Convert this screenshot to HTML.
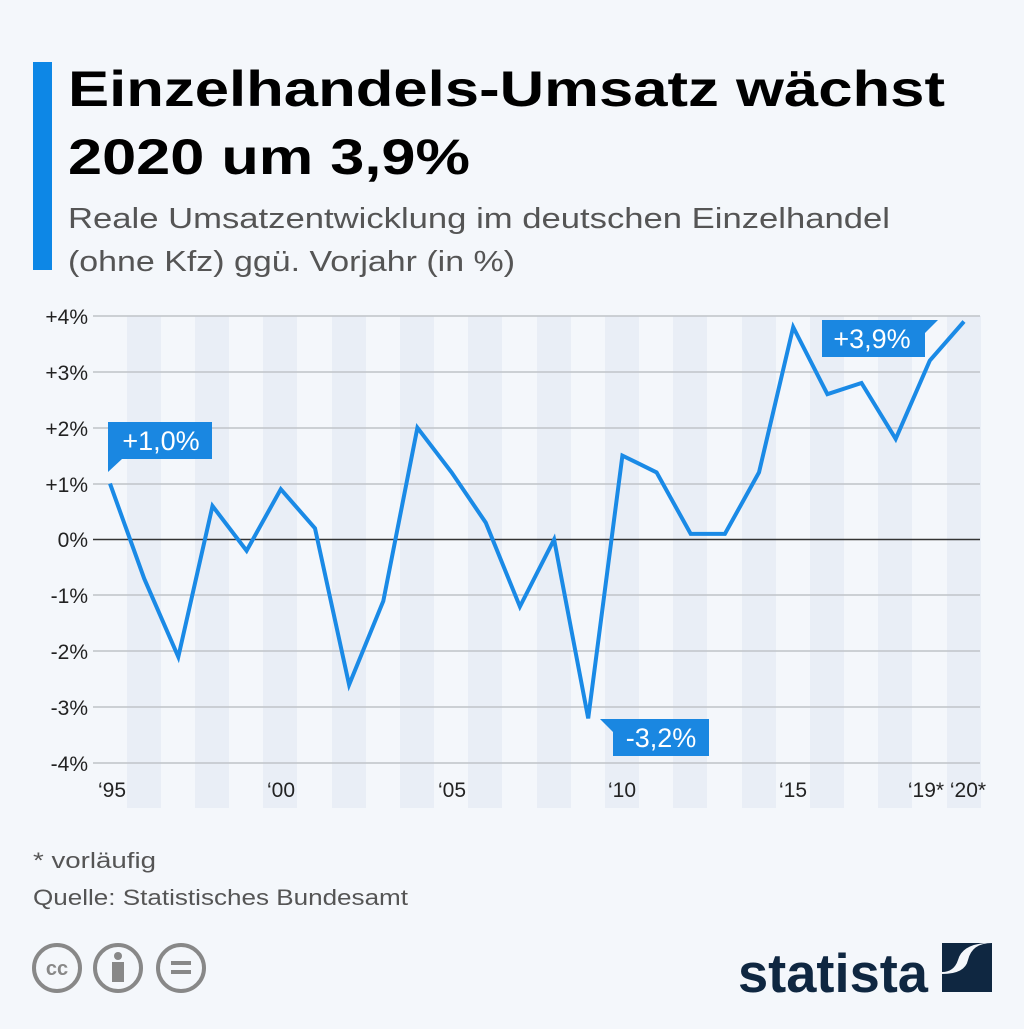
<!DOCTYPE html>
<html><head><meta charset="utf-8"><style>
body{margin:0;width:1024px;height:1024px;background:#f4f7fb;font-family:"Liberation Sans",sans-serif;overflow:hidden}
</style></head><body>
<svg width="1024" height="1024" viewBox="0 0 1024 1024" xmlns="http://www.w3.org/2000/svg" font-family="Liberation Sans, sans-serif">
<rect width="1024" height="1024" fill="#f4f7fb"/>
<rect x="33" y="62" width="19" height="208" fill="#0d87e6"/>
<text x="68" y="106" font-size="50" font-weight="bold" fill="#000" textLength="877" lengthAdjust="spacingAndGlyphs">Einzelhandels-Umsatz wächst</text>
<text x="68" y="174" font-size="50" font-weight="bold" fill="#000" textLength="402" lengthAdjust="spacingAndGlyphs">2020 um 3,9%</text>
<text x="68" y="228" font-size="29" fill="#555" textLength="822" lengthAdjust="spacingAndGlyphs">Reale Umsatzentwicklung im deutschen Einzelhandel</text>
<text x="68" y="271" font-size="29" fill="#555" textLength="447" lengthAdjust="spacingAndGlyphs">(ohne Kfz) ggü. Vorjahr (in %)</text>
<g fill="#e9eef6">
<rect x="127" y="316" width="34" height="492"/><rect x="195" y="316" width="34" height="492"/><rect x="263" y="316" width="34" height="492"/><rect x="332" y="316" width="34" height="492"/><rect x="400" y="316" width="34" height="492"/><rect x="468" y="316" width="34" height="492"/><rect x="537" y="316" width="34" height="492"/><rect x="605" y="316" width="34" height="492"/><rect x="673" y="316" width="34" height="492"/><rect x="742" y="316" width="34" height="492"/><rect x="810" y="316" width="34" height="492"/><rect x="878" y="316" width="34" height="492"/><rect x="947" y="316" width="34" height="492"/>
</g>
<g stroke="#bfc3c8" stroke-width="1.5">
<line x1="93" x2="980" y1="316" y2="316"/><line x1="93" x2="980" y1="372" y2="372"/><line x1="93" x2="980" y1="428" y2="428"/><line x1="93" x2="980" y1="484" y2="484"/><line x1="93" x2="980" y1="595" y2="595"/><line x1="93" x2="980" y1="651" y2="651"/><line x1="93" x2="980" y1="707" y2="707"/><line x1="93" x2="980" y1="763" y2="763"/>
</g>
<line x1="93" x2="980" y1="539.5" y2="539.5" stroke="#333" stroke-width="1.5"/>
<g font-size="21" fill="#222" text-anchor="end">
<text x="88" y="324">+4%</text><text x="88" y="380">+3%</text><text x="88" y="436">+2%</text><text x="88" y="492">+1%</text><text x="88" y="547">0%</text><text x="88" y="603">-1%</text><text x="88" y="659">-2%</text><text x="88" y="715">-3%</text><text x="88" y="771">-4%</text>
</g>
<g font-size="21" fill="#222" text-anchor="middle">
<text x="112" y="797">‘95</text><text x="281" y="797">‘00</text><text x="452" y="797">‘05</text><text x="622" y="797">‘10</text><text x="793" y="797">‘15</text><text x="926" y="797">‘19*</text><text x="968" y="797">‘20*</text>
</g>
<polyline fill="none" stroke="#1a8ae6" stroke-width="4" stroke-linejoin="miter" points="110,483.6 144.2,578.6 178.3,656.9 212.5,506 246.6,550.7 280.8,489.2 315,528.3 349.1,684.8 383.3,601 417.4,427.7 451.6,472.4 485.8,522.7 519.9,606.6 554.1,539.5 588.2,718.4 622.4,455.6 656.6,472.4 690.7,533.9 724.9,533.9 759,472.4 793.2,327.1 827.4,394.2 861.5,383 895.7,438.9 929.8,360.6 964,321.5"/>
<g fill="#1a87e1">
<path d="M108,422H212V459H122L108,472Z"/>
<path d="M822,320H938L925,333V357H822Z"/>
<path d="M600,719H709V756H613V732Z"/>
</g>
<g font-size="27" fill="#fff" text-anchor="middle">
<text x="161" y="450">+1,0%</text><text x="872" y="348">+3,9%</text><text x="661" y="747">-3,2%</text>
</g>
<text x="33" y="868" font-size="22" fill="#555" textLength="123" lengthAdjust="spacingAndGlyphs">* vorläufig</text>
<text x="33" y="905" font-size="22" fill="#555" textLength="375" lengthAdjust="spacingAndGlyphs">Quelle: Statistisches Bundesamt</text>
<g fill="none" stroke="#888" stroke-width="4">
<circle cx="57" cy="968" r="23"/><circle cx="118" cy="968" r="23"/><circle cx="181" cy="968" r="23"/>
</g>
<text x="57" y="975" font-size="20" font-weight="bold" fill="#888" text-anchor="middle">cc</text>
<circle cx="118" cy="956" r="4" fill="#888"/><rect x="112" y="962" width="12" height="20" fill="#888"/>
<rect x="171" y="961" width="20" height="4" fill="#888"/><rect x="171" y="970" width="20" height="4" fill="#888"/>
<text x="738" y="992" font-size="55" font-weight="bold" fill="#0f2741" textLength="190" lengthAdjust="spacingAndGlyphs">statista</text>
<path d="M992,943V992H942V974Q965,974 968,960Q972,943 992,943Z M942,943H985Q962,945 958,960Q954,972 942,972Z" fill="#0f2741"/>
</svg>
</body></html>
